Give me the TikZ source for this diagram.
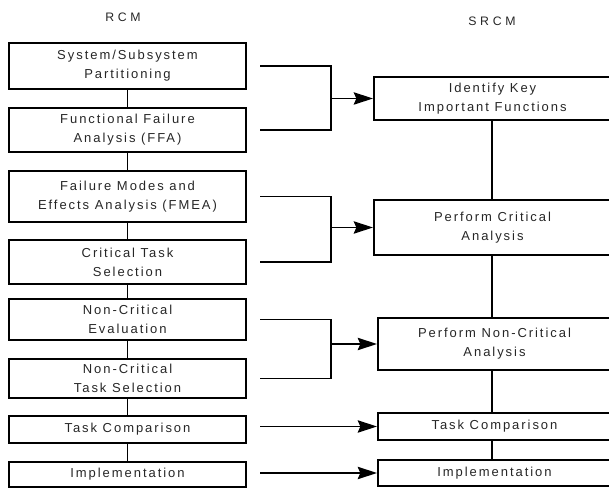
\documentclass[tikz,border=0pt]{standalone}
\usepackage{fontspec}
\setmainfont{Liberation Sans}[LetterSpace=15]
\usetikzlibrary{arrows.meta, positioning}

\begin{document}
\begin{tikzpicture}[
    x=0.02cm, y=-0.02cm,
    box/.style={draw, line width=1.1pt, align=center, inner sep=1pt, text=black!85,
                font=\fontsize{7.4}{10.8}\selectfont},
    lbox/.style={box, minimum width=4.74cm},
    rbox/.style={box, minimum width=4.66cm},
    title/.style={text=black!85, font=\fontsize{7}{8}\selectfont\addfontfeatures{LetterSpace=30}},
    wire/.style={line width=1.1pt},
    arr/.style={-{Stealth[length=11pt, width=7pt, inset=1.5pt]}, line width=1.1pt}
]
\useasboundingbox (0,0) rectangle (609,489);

\node[title] (rcmT) at (123,17) {RCM};
\node[title] (srcmT) at (492,21) {SRCM};

% RCM column
\node[lbox, minimum height=0.92cm] (L1) at (127.5,66) {System/Subsystem\\Partitioning};
\node[lbox, minimum height=0.88cm] (L2) at (127.5,130) {Functional Failure\\Analysis (FFA)};
\node[lbox, minimum height=1.02cm] (L3) at (127.5,196.5) {Failure Modes and\\Effects Analysis (FMEA)};
\node[lbox, minimum height=0.88cm] (L4) at (127.5,262) {Critical Task\\Selection};
\node[lbox, minimum height=0.82cm] (L5) at (127.5,319.5) {Non-Critical\\Evaluation};
\node[lbox, minimum height=0.78cm] (L6) at (127.5,378.5) {Non-Critical\\Task Selection};
\node[lbox, minimum height=0.54cm] (L7) at (127.5,429.5) {Task Comparison};
\node[lbox, minimum height=0.50cm] (L8) at (127.5,474.5) {Implementation};

% SRCM column
\node[rbox, minimum width=4.74cm, minimum height=0.86cm] (R1) at (492.5,98.5) {Identify Key\\Important Functions};
\node[rbox, minimum width=4.74cm, minimum height=1.10cm] (R2) at (492.5,227.5) {Perform Critical\\Analysis};
\node[rbox, minimum height=1.04cm] (R3) at (494.5,344) {Perform Non-Critical\\Analysis};
\node[rbox, minimum height=0.54cm] (R4) at (494.5,426.5) {Task Comparison};
\node[rbox, minimum height=0.52cm] (R5) at (494.5,473) {Implementation};

\coordinate (in) at (260,0);
\coordinate (jn) at (331,0);

\foreach \a/\b in {L1/L2, L2/L3, L3/L4, L4/L5, L5/L6, L6/L7, L7/L8}
    \draw[wire] (\a) -- (\b);
\foreach \a/\b in {R1/R2, R2/R3, R3/R4, R4/R5}
    \draw[wire] (\a.south -| srcmT) -- (\b.north -| srcmT);

% brackets
\foreach \a/\b/\r in {L1/L2/R1, L3/L4/R2, L5/L6/R3} {
    \draw[wire] (in |- \a) -| (jn |- \b) -- (in |- \b);
    \draw[arr] (jn |- \r) -- (\r);
}
\foreach \r in {R4, R5}
    \draw[arr] (in |- \r) -- (\r);
\end{tikzpicture}
\end{document}
